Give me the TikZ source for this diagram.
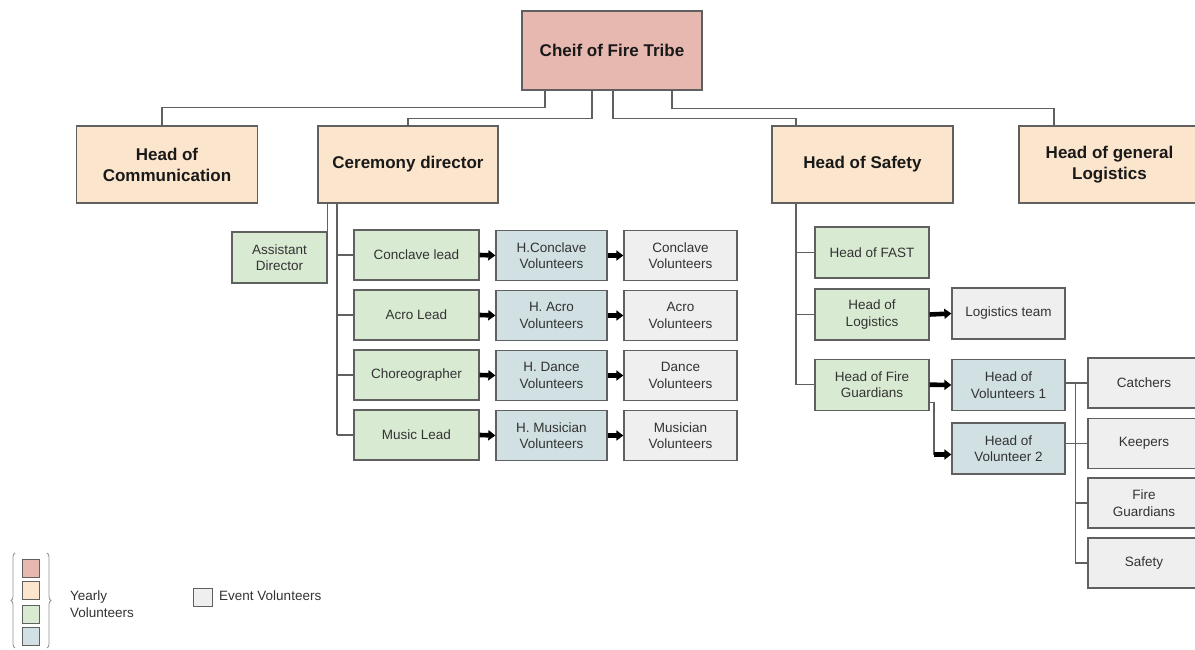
\documentclass[tikz,border=0pt]{standalone}
\usepackage{fontspec}
\setmainfont{Liberation Sans}
\usetikzlibrary{arrows.meta,decorations.pathreplacing}
\definecolor{cpink}{HTML}{E6B8AF}
\definecolor{corange}{HTML}{FCE5CD}
\definecolor{cgreen}{HTML}{D9EAD3}
\definecolor{cblue}{HTML}{D0E0E3}
\definecolor{cgray}{HTML}{EFEFEF}
\definecolor{cline}{HTML}{606060}
\definecolor{ctext}{HTML}{333333}
\begin{document}
\begin{tikzpicture}[x=1pt,y=-1pt,
  box/.style={draw=cline, line width=1.3pt, inner sep=0pt, align=center},
  bigbox/.style={box, text=black!90, minimum width=181pt, minimum height=77pt,
    font=\fontsize{17}{21}\selectfont\bfseries},
  pbox/.style={bigbox, fill=cpink, minimum width=180pt, minimum height=79pt},
  obox/.style={bigbox, fill=corange},
  smallbox/.style={box, text=ctext, minimum height=50pt, font=\fontsize{13.5}{16.5}\selectfont},
  gbox/.style={smallbox, fill=cgreen},
  bbox/.style={smallbox, fill=cblue},
  ebox/.style={smallbox, fill=cgray},
  conn/.style={draw=cline, line width=1.3pt},
  arr/.style={draw=black, line width=4.6pt, -{Triangle[length=7pt,width=10pt]}},
  legsq/.style={draw=cline, line width=0.9pt, inner sep=0pt, minimum width=17.5pt, minimum height=18pt},
  legtext/.style={text=ctext, anchor=west, align=left, inner sep=0pt, font=\fontsize{13.5}{16.5}\selectfont},
  legbrace/.style={draw=cline!70, line width=0.8pt, decorate, decoration={brace, amplitude=4pt}}
]
\clip (0,0) rectangle (1195,650);

% top level
\node[pbox] (chief) at (612,50.5) {Cheif of Fire Tribe};
\node[obox] (comm) at (167,164.5) {Head of\\Communication};
\node[obox, minimum width=180pt] (cer) at (408,164.5) {Ceremony director};
\node[obox] (saf) at (862.5,164.5) {Head of Safety};
\node[obox] (glog) at (1109.5,164.5) {Head of general\\Logistics};

\draw[conn] ([xshift=-67pt]chief.south) -- ++(0,17) -| ([xshift=-5pt]comm.north);
\draw[conn] ([xshift=-20pt]chief.south) -- ++(0,28) -| (cer.north);
\draw[conn] ([xshift=1pt]chief.south) -- ++(0,28) -| ([xshift=-66.5pt]saf.north);
\draw[conn] ([xshift=60pt]chief.south) -- ++(0,18) -| ([xshift=-55.5pt]glog.north);

% ceremony subtree
\node[gbox, minimum width=95pt, minimum height=51pt] (asst) at (279.5,257.5) {Assistant\\Director};
\node[gbox, minimum width=125pt] (conc) at (416.5,255) {Conclave lead};
\node[gbox, minimum width=125pt] (acro) at (416.5,315) {Acro Lead};
\node[gbox, minimum width=125pt] (chor) at (416.5,375) {Choreographer};
\node[gbox, minimum width=125pt] (mus) at (416.5,435) {Music Lead};

\node[bbox, minimum width=111pt] (hconc) at (551.5,255.5) {H.Conclave\\Volunteers};
\node[bbox, minimum width=111pt] (hacro) at (551.5,315.5) {H. Acro\\Volunteers};
\node[bbox, minimum width=111pt] (hdance) at (551.5,375.5) {H. Dance\\Volunteers};
\node[bbox, minimum width=111pt] (hmus) at (551.5,435.5) {H. Musician\\Volunteers};

\node[ebox, minimum width=113pt] (vconc) at (680.5,255.5) {Conclave\\Volunteers};
\node[ebox, minimum width=113pt] (vacro) at (680.5,315.5) {Acro\\Volunteers};
\node[ebox, minimum width=113pt] (vdance) at (680.5,375.5) {Dance\\Volunteers};
\node[ebox, minimum width=113pt] (vmus) at (680.5,435.5) {Musician\\Volunteers};

\draw[conn] (asst.north east |- cer.south) -- (asst.north east);
\coordinate (cspine) at ([xshift=-16.5pt]conc.west);
\draw[conn] (cspine |- cer.south) -- (cspine |- mus.west);
\foreach \n in {conc,acro,chor,mus} \draw[conn] (cspine |- \n.west) -- (\n.west);
\foreach \a/\b in {conc/hconc,acro/hacro,chor/hdance,mus/hmus,hconc/vconc,hacro/vacro,hdance/vdance,hmus/vmus}
  \draw[arr] (\a.east) -- (\b.west);

% safety subtree
\node[gbox, minimum width=114pt, minimum height=51pt] (fast) at (872,252.5) {Head of FAST};
\node[gbox, minimum width=114pt, minimum height=51pt] (hlog) at (872,314.5) {Head of\\Logistics};
\node[gbox, minimum width=114pt, minimum height=51pt] (hfg) at (872,384.7) {Head of Fire\\Guardians};
\node[ebox, minimum width=113pt, minimum height=51pt] (lteam) at (1008.5,313.5) {Logistics team};
\node[bbox, minimum width=113pt, minimum height=51pt] (vol1) at (1008.5,385) {Head of\\Volunteers 1};
\node[bbox, minimum width=113pt, minimum height=51pt] (vol2) at (1008.5,448.5) {Head of\\Volunteer 2};

\coordinate (sspine) at ([xshift=-66.5pt]saf.south);
\draw[conn] (sspine) -- (sspine |- hfg.west);
\foreach \n in {fast,hlog,hfg} \draw[conn] (sspine |- \n.west) -- (\n.west);
\draw[arr] (hlog.east) -- (lteam.west);
\draw[arr] (hfg.east) -- (vol1.west);
\coordinate (v2in) at ([yshift=-6pt]vol2.west);
\draw[conn] ([yshift=-17.6pt]hfg.east) -| ([xshift=-17.5pt]v2in);
\draw[arr] ([xshift=-17.5pt]v2in) -- (v2in);

\node[ebox, minimum width=112pt] (catch) at (1144,383) {Catchers};
\node[ebox, minimum width=112pt] (keep) at (1144,443.3) {Keepers};
\node[ebox, minimum width=112pt] (fguard) at (1144,503) {Fire\\Guardians};
\node[ebox, minimum width=112pt] (safe) at (1144,563) {Safety};

\coordinate (vspine) at ([xshift=-12pt]catch.west);
\draw[conn] (vspine |- catch.west) -- (vspine |- safe.west);
\foreach \n in {catch,keep,fguard,safe} \draw[conn] (vspine |- \n.west) -- (\n.west);
\draw[conn] (vol1.east |- catch.west) -- (vspine |- catch.west);
\draw[conn] (vol2.east |- keep.west) -- (vspine |- keep.west);

% legend
\node[legsq, fill=cpink] (lp) at (30.7,568.5) {};
\node[legsq, fill=corange] (lo) at (30.7,590.8) {};
\node[legsq, fill=cgreen] (lg) at (30.7,614.2) {};
\node[legsq, fill=cblue] (lb) at (30.7,636.7) {};
\draw[legbrace] (15,648) -- (15,553);
\draw[legbrace] (47,553) -- (47,648);
\node[legtext] (ylab) at (70,604) {Yearly\\Volunteers};
\node[legsq, fill=cgray, minimum width=19pt] (le) at (202.5,597) {};
\node[legtext] (elab) at (219,596) {Event Volunteers};
\end{tikzpicture}
\end{document}
